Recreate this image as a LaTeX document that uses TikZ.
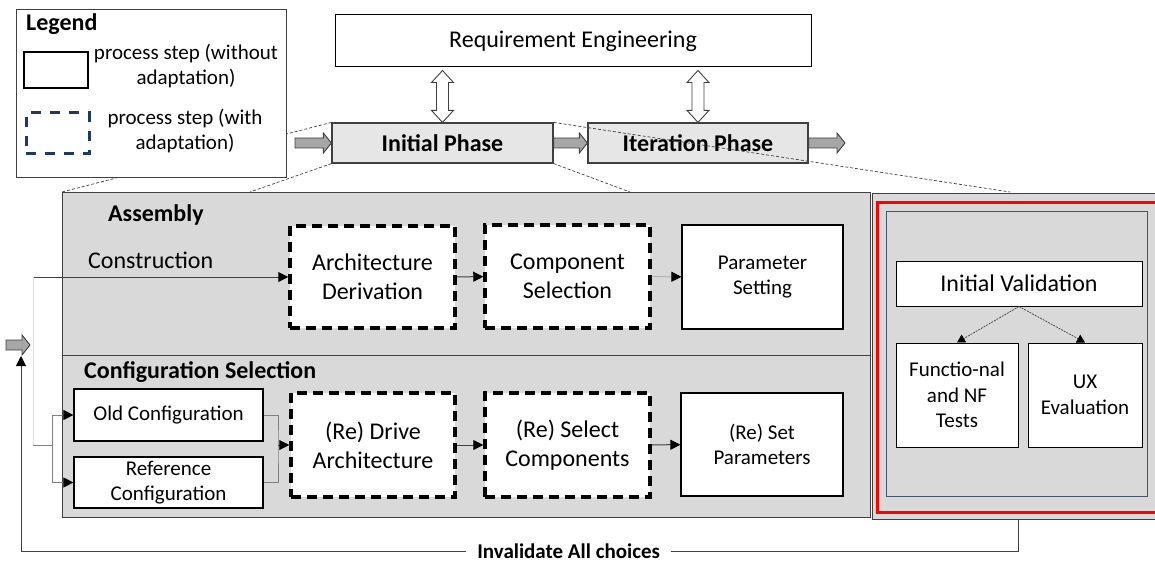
\documentclass[tikz,border=0pt]{standalone}
\usepackage{fontspec}
\setmainfont{Carlito}
\usetikzlibrary{positioning,arrows.meta,calc}
\definecolor{blockgray}{HTML}{D9D9D9}
\definecolor{phasegray}{HTML}{E7E6E6}
\definecolor{arrowgray}{HTML}{A6A6A6}
\definecolor{lined}{HTML}{404040}
\definecolor{midgray}{HTML}{808080}
\definecolor{slate}{HTML}{44546A}
\definecolor{navy}{HTML}{1F3864}

% fat gray arrow from #1 to the tip #2 (horizontal)
\newcommand{\flowarrow}[2]{%
  \draw[flowfill] ($(#1)+(0,-5)$) -- ($(#2)+(-8,-5)$) -- ($(#2)+(-8,-10)$) -- (#2)
    -- ($(#2)+(-8,10)$) -- ($(#2)+(-8,5)$) -- ($(#1)+(0,5)$) -- cycle;}
% hollow two-headed arrow from #1 down to #2
\newcommand{\reqarrow}[2]{%
  \draw[reqfill] (#1) -- ($(#1)+(11,12)$) -- ($(#1)+(6,12)$) -- ($(#2)+(6,-12)$)
    -- ($(#2)+(11,-12)$) -- (#2) -- ($(#2)+(-11,-12)$) -- ($(#2)+(-6,-12)$)
    -- ($(#1)+(-6,12)$) -- ($(#1)+(-11,12)$) -- cycle;}

\begin{document}
\begin{tikzpicture}[x=1pt,y=-1pt,
   every node/.append style={align=center,inner sep=0pt},
   bigtxt/.style={font=\fontsize{24}{29}\selectfont},
   smalltxt/.style={font=\fontsize{21}{25.5}\selectfont},
   headtxt/.style={font=\fontsize{24}{29}\selectfont\bfseries,anchor=west},
   panel/.style={draw=lined,line width=1pt,fill=blockgray},
   plainbox/.style={draw=black,line width=1.2pt,fill=white},
   adaptbox/.style={draw=black,line width=3.5pt,dash pattern=on 10pt off 6pt,fill=white},
   phasebox/.style={draw=lined,line width=1.2pt,fill=phasegray,font=\fontsize{24}{29}\selectfont\bfseries},
   flowfill/.style={draw=lined,fill=arrowgray,line width=0.9pt,line join=miter},
   reqfill/.style={draw=lined,fill=white,line width=0.9pt},
   link/.style={draw=lined,line width=1pt,-{Triangle[length=10pt,width=10pt,color=black]}},
   zoomline/.style={draw=lined,line width=0.7pt,dash pattern=on 3pt off 2pt},
   testlink/.style={draw=lined,line width=0.7pt,dash pattern=on 2pt off 1pt,
     -{Triangle[length=8pt,width=9pt,color=black]}}
]
\useasboundingbox (0,0) rectangle (1155,564);
\clip (0,0) rectangle (1155,564);

% top row: requirements and the two phases
\node[plainbox,bigtxt,line width=1pt,minimum width=476pt,minimum height=52pt] (req) at (573,41) {Requirement Engineering};
\node[phasebox,minimum width=221pt,minimum height=40pt] (init) at (442.5,143) {Initial Phase};
\node[phasebox,minimum width=220pt,minimum height=40pt] (iter) at (698,143) {Iteration Phase};

\coordinate (reqa) at ($(req.south -| init.north)+(0,3)$);
\coordinate (reqb) at ($(req.south -| iter.north)+(0,3)$);
\reqarrow{reqa}{init.north}
\reqarrow{reqb}{iter.north}

\coordinate (entry) at (295,143);
\coordinate (exit) at (845,143);
\coordinate (loopin) at (6,345);
\coordinate (looptip) at (30,345);
\flowarrow{entry}{init.west}
\flowarrow{init.east}{iter.west}
\flowarrow{iter.east}{exit}

% detail panels
\node[panel,minimum width=808pt,minimum height=163pt] (assembly) at (466,273.5) {};
\node[panel,minimum width=808pt,minimum height=162pt] (confsel) at (466,436) {};
\node[panel,minimum width=293pt,minimum height=326pt] (valblock) at (1018.5,356) {};
\node[draw=red,line width=3pt,minimum width=285pt,minimum height=310pt] (redframe) at (1019.5,357) {};
\node[draw=slate,line width=0.8pt,minimum width=261pt,minimum height=285pt] (valframe) at (1016.5,353.5) {};
\flowarrow{loopin}{looptip}

% zoom lines from the initial phase
\coordinate (asmleft) at (62,192);
\coordinate (asmmid) at (250,192);
\coordinate (asmright) at (630,192);
\coordinate (valtop) at (1010,192);
\draw[zoomline] (init.north west) -- (asmleft);
\draw[zoomline] (init.south west) -- (asmmid);
\draw[zoomline] (init.south east) -- (asmright);
\draw[zoomline] (init.north east) -- (valtop);

% legend
\node[draw=lined,line width=1pt,fill=white,minimum width=270pt,minimum height=167pt] (legend) at (151,93.5) {};
\node[headtxt] (legendtitle) at (26,24) {Legend};
\node[draw=black,line width=2.5pt,minimum width=64pt,minimum height=36pt] (legsolid) at (56,70) {};
\node[smalltxt] (legsolidtxt) at (186,66) {process step (without\\adaptation)};
\node[draw=navy,line width=3pt,dash pattern=on 10pt off 9pt,minimum width=63pt,minimum height=41pt] (legdash) at (57.5,133.5) {};
\node[smalltxt] (legdashtxt) at (185,131) {process step (with\\adaptation)};

% assembly
\node[headtxt] (asmlabel) at (108,215) {Assembly};
\node[bigtxt,anchor=west] (conslabel) at (88,260) {Construction};
\node[adaptbox,bigtxt,minimum width=165pt,minimum height=102pt] (archder) at (372.5,277) {Architecture\\Derivation};
\node[adaptbox,bigtxt,minimum width=165pt,minimum height=103pt] (compsel) at (567.5,276.5) {Component\\Selection};
\node[plainbox,smalltxt,minimum width=161pt,minimum height=104pt] (paramset) at (762.5,277) {Parameter\\Setting};

% configuration selection
\node[headtxt] (conflabel) at (84,372) {Configuration Selection};
\node[plainbox,smalltxt,minimum width=189pt,minimum height=52pt] (oldcfg) at (168.5,415) {Old Configuration};
\node[plainbox,smalltxt,minimum width=189pt,minimum height=51pt] (refcfg) at (168.5,482.5) {Reference\\Configuration};
\node[adaptbox,bigtxt,minimum width=164pt,minimum height=104pt] (drivearch) at (373,445) {(Re) Drive\\Architecture};
\node[adaptbox,bigtxt,minimum width=165pt,minimum height=104pt] (selcomp) at (567.5,445) {(Re) Select\\Components};
\node[plainbox,smalltxt,minimum width=162pt,minimum height=103pt] (setparam) at (762,444.5) {(Re) Set\\Parameters};

% validation
\node[plainbox,bigtxt,line width=1pt,minimum width=246pt,minimum height=45pt] (initval) at (1019,283.5) {Initial Validation};
\node[plainbox,smalltxt,line width=1pt,minimum width=122pt,minimum height=104pt] (functest) at (957,395) {Functio-nal\\and NF\\Tests};
\node[plainbox,smalltxt,line width=1pt,minimum width=114pt,minimum height=104pt] (uxeval) at (1085,395) {UX\\Evaluation};

% connectors
\coordinate (rise) at (33,277);
\coordinate (fork) at (33,445);
\coordinate (branch) at (52,445);
\coordinate (merge) at (278,445);
\draw[link] (rise) -- (archder.west);
\draw[black!12,line width=1pt] (rise) -- (fork);
\draw[midgray,line width=1pt] (fork) -- (branch);
\draw[link,draw=midgray] (branch) |- (oldcfg.west);
\draw[link,draw=midgray] (branch) |- (refcfg.west);
\draw[midgray,line width=1pt] (oldcfg.east) -| (merge) |- (refcfg.east);
\draw[link] (merge) -- (drivearch.west);
\draw[link] (archder) -- (compsel);
\draw[link,draw=black!30] (compsel) -- (paramset);
\draw[link] (drivearch) -- (selcomp);
\draw[link] (selcomp) -- (setparam);
\draw[testlink] (initval.south) -- (functest.north);
\draw[testlink] (initval.south) -- (uxeval.north);

% feedback loop
\coordinate (fbdown) at (1018.5,551);
\coordinate (fbleft) at (21,551);
\coordinate (fbup) at (21,356);
\draw[link] (valblock.south) -- (fbdown) -- node[pos=0.451,fill=white,inner xsep=11pt,inner ysep=0pt,
   font=\fontsize{21}{24}\selectfont\bfseries] (invalid) {Invalidate All choices} (fbleft) -- (fbup);
\end{tikzpicture}
\end{document}
